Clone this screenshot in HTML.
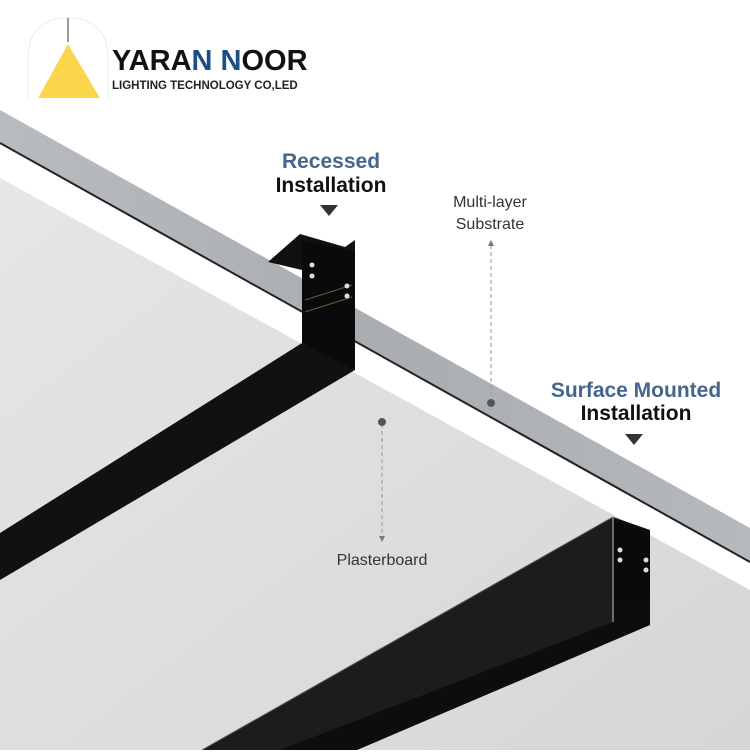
<!DOCTYPE html>
<html><head><meta charset="utf-8"><style>
body{margin:0;width:750px;height:750px;overflow:hidden;background:#fff;font-family:"Liberation Sans","DejaVu Sans",sans-serif}
</style></head><body>
<svg width="750" height="750" viewBox="0 0 750 750" xmlns="http://www.w3.org/2000/svg">
<defs>
<linearGradient id="pb" x1="0" y1="0" x2="1" y2="1">
<stop offset="0" stop-color="#e6e6e6"/><stop offset="1" stop-color="#d6d6d6"/></linearGradient>
<linearGradient id="sub" x1="0" y1="0" x2="1" y2="0">
<stop offset="0" stop-color="#b8bcc0"/><stop offset="0.5" stop-color="#a9adb1"/><stop offset="1" stop-color="#b5b9bd"/></linearGradient>
</defs>
<rect width="750" height="750" fill="#fff"/>
<!-- substrate -->
<polygon points="0,110 750,528 750,562 0,143" fill="url(#sub)"/>
<line x1="0" y1="143" x2="750" y2="562" stroke="#222" stroke-width="2"/>
<!-- plasterboard face -->
<polygon points="0,178 750,590 750,750 0,750" fill="url(#pb)"/>
<!-- recessed track -->
<polygon points="268,262 300,234 345,247 355,240 355,370 0,580 0,533 302,343 302,270" fill="#111"/>
<polygon points="302,240 355,252 355,370 302,343" fill="#0a0a0a"/>
<line x1="305" y1="300" x2="352" y2="285" stroke="#6b5a3a" stroke-width="1"/>
<line x1="305" y1="312" x2="352" y2="297" stroke="#6b5a3a" stroke-width="1"/>
<circle cx="312" cy="265" r="2.5" fill="#ddd"/><circle cx="312" cy="276" r="2.5" fill="#ddd"/>
<circle cx="347" cy="286" r="2.5" fill="#ddd"/><circle cx="347" cy="296" r="2.5" fill="#ddd"/>
<!-- surface track -->
<polygon points="613,517 650,530 650,625 357,750 202,750" fill="#0d0d0d"/>
<polygon points="613,517 613,622 280,750 202,750" fill="#1c1c1c"/>
<polygon points="614,522 650,534 650,600 614,600" fill="#0a0a0a"/>
<line x1="613" y1="517" x2="613" y2="622" stroke="#888" stroke-width="1.5"/>
<line x1="613" y1="517" x2="202" y2="750" stroke="#555" stroke-width="1"/>
<circle cx="620" cy="550" r="2.5" fill="#ddd"/><circle cx="620" cy="560" r="2.5" fill="#ddd"/>
<circle cx="646" cy="560" r="2.5" fill="#ddd"/><circle cx="646" cy="570" r="2.5" fill="#ddd"/>
<!-- logo -->
<path d="M28,98 L28,60 Q28,18 68,18 Q108,18 108,60 L108,98" fill="none" stroke="#e4eef2" stroke-width="1"/>
<line x1="68" y1="18" x2="68" y2="42" stroke="#333" stroke-width="1"/>
<polygon points="68,44 38,98 100,98" fill="#fcd54e"/>
<text x="112" y="70" font-size="29" font-weight="bold" fill="#111">YARA<tspan fill="#1d4e86">N</tspan> <tspan fill="#1d4e86">N</tspan>OOR</text>
<text x="112" y="89" font-size="11.5" font-weight="bold" fill="#222">LIGHTING TECHNOLOGY CO,LED</text>
<!-- labels -->
<g font-weight="bold" text-anchor="middle" font-size="21">
<text x="331" y="168" fill="#46658e">Recessed</text>
<text x="331" y="192" fill="#111">Installation</text>
<text x="636" y="397" fill="#46658e">Surface Mounted</text>
<text x="636" y="420" fill="#111">Installation</text>
</g>
<polygon points="320,205 338,205 329,216" fill="#333"/>
<polygon points="625,434 643,434 634,445" fill="#333"/>
<g text-anchor="middle" font-size="16" fill="#333">
<text x="490" y="207">Multi-layer</text>
<text x="490" y="229">Substrate</text>
<text x="382" y="565">Plasterboard</text>
</g>
<line x1="491" y1="245" x2="491" y2="400" stroke="#999" stroke-dasharray="4,3"/>
<polygon points="488,246 494,246 491,240" fill="#777"/>
<circle cx="491" cy="403" r="4" fill="#555"/>
<line x1="382" y1="424" x2="382" y2="537" stroke="#999" stroke-dasharray="4,3"/>
<polygon points="379,536 385,536 382,542" fill="#777"/>
<circle cx="382" cy="422" r="4" fill="#555"/>
</svg>
</body></html>
